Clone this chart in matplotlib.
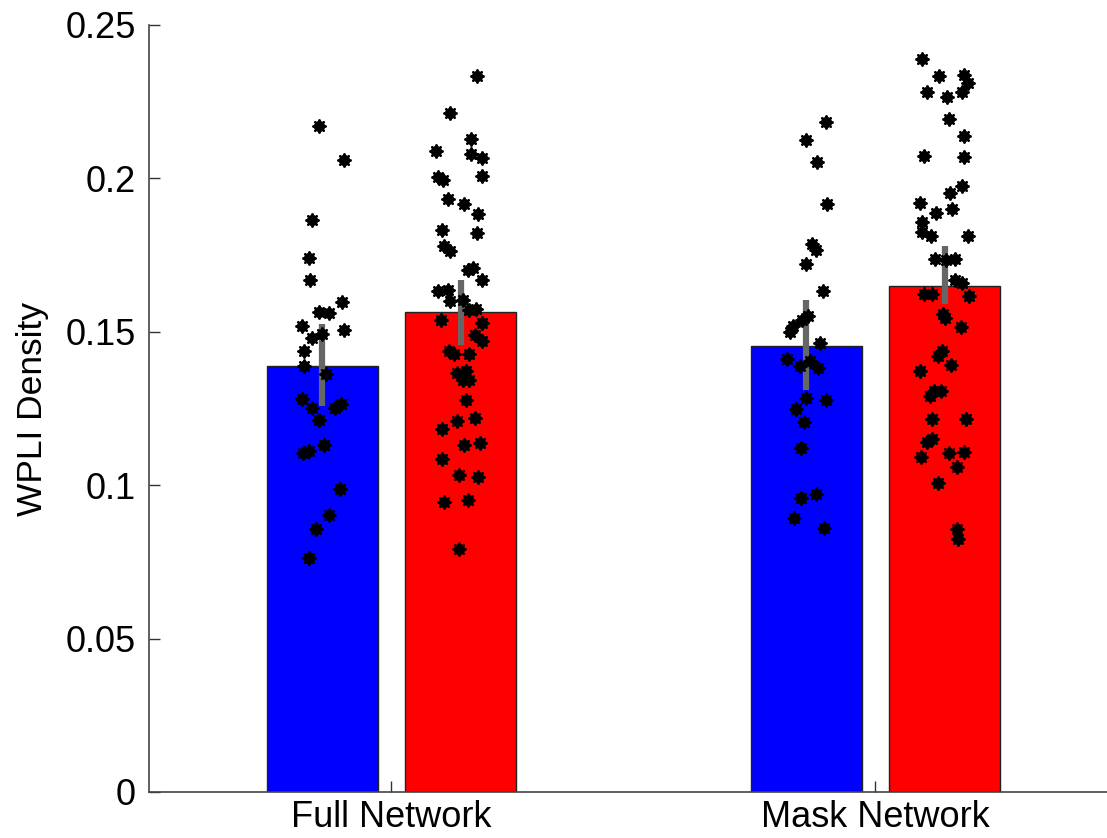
import numpy             as np
import matplotlib.pyplot as plt

plt.rcParams['font.family'] = ['Liberation Sans', 'DejaVu Sans']

groups    = ['Full Network', 'Mask Network']
means_b   = [0.1390, 0.1455]     # blue series
means_r   = [0.1566, 0.1650]     # red series
err_lo_b  = [0.1257, 0.1310]
err_hi_b  = [0.1526, 0.1605]
err_lo_r  = [0.1458, 0.1590]
err_hi_r  = [0.1670, 0.1780]

# individual subjects (value, horizontal jitter)
full_b = [0.2171, 0.2060, 0.1865, 0.1740, 0.1669, 0.1598, 0.1566, 0.1561, 0.1520,
          0.1507, 0.1481, 0.1493, 0.1437, 0.1388, 0.1364, 0.1281, 0.1252, 0.1252,
          0.1263, 0.1212, 0.1131, 0.1104, 0.1111, 0.0989, 0.0902, 0.0856, 0.0764]
full_b_jit = [-0.006, 0.045, -0.021, -0.028, -0.026, 0.041, -0.006, 0.013, -0.042,
              0.045, -0.021, -0.001, -0.037, -0.037, 0.008, -0.042, -0.021, 0.027,
              0.039, -0.006, 0.004, -0.040, -0.028, 0.036, 0.013, -0.012, -0.028]

full_r = [0.2334, 0.2213, 0.2128, 0.2088, 0.2080, 0.2068, 0.2008, 0.2004, 0.1995,
          0.1933, 0.1917, 0.1885, 0.1833, 0.1822, 0.1781, 0.1762, 0.1702, 0.1708,
          0.1670, 0.1632, 0.1637, 0.1599, 0.1605, 0.1570, 0.1575, 0.1540, 0.1527,
          0.1488, 0.1469, 0.1437, 0.1426, 0.1429, 0.1366, 0.1371, 0.1344, 0.1342,
          0.1279, 0.1220, 0.1209, 0.1184, 0.1130, 0.1136, 0.1086, 0.1032, 0.1028,
          0.0945, 0.0952, 0.0791]
full_r_jit = [0.033, -0.022, 0.021, -0.050, 0.021, 0.045, 0.045, -0.047, -0.036,
              -0.026, 0.007, 0.036, -0.038, 0.033, -0.034, -0.021, 0.015, 0.026,
              0.045, -0.047, -0.026, -0.022, 0.006, 0.017, 0.031, -0.041, 0.045,
              0.029, 0.045, -0.024, -0.014, 0.017, -0.007, 0.012, 0.004, 0.017,
              0.012, 0.029, -0.008, -0.038, 0.008, 0.040, -0.038, -0.004, 0.036,
              -0.034, 0.015, -0.004]

mask_b = [0.2185, 0.2126, 0.2055, 0.1917, 0.1787, 0.1768, 0.1722, 0.1632, 0.1553,
          0.1537, 0.1518, 0.1498, 0.1462, 0.1410, 0.1390, 0.1404, 0.1383, 0.1285,
          0.1279, 0.1247, 0.1205, 0.1122, 0.0959, 0.0970, 0.0894, 0.0862]
mask_b_jit = [0.040, -0.001, 0.022, 0.043, 0.011, 0.020, -0.001, 0.035, 0.004,
              -0.008, -0.027, -0.033, 0.028, -0.040, -0.013, 0.007, 0.024, -0.001,
              0.040, -0.022, -0.005, -0.010, -0.010, 0.020, -0.026, 0.036]

mask_r = [0.2388, 0.2334, 0.2337, 0.2310, 0.2283, 0.2265, 0.2283, 0.2193, 0.2139,
          0.2074, 0.2069, 0.1976, 0.1952, 0.1920, 0.1887, 0.1900, 0.1857, 0.1824,
          0.1813, 0.1813, 0.1737, 0.1735, 0.1737, 0.1670, 0.1659, 0.1624, 0.1624,
          0.1618, 0.1559, 0.1545, 0.1516, 0.1437, 0.1420, 0.1393, 0.1371, 0.1306,
          0.1290, 0.1306, 0.1216, 0.1216, 0.1151, 0.1140, 0.1104, 0.1108, 0.1093,
          0.1060, 0.1008, 0.0858, 0.0824]
mask_r_jit = [-0.046, -0.012, 0.040, 0.048, -0.037, 0.004, 0.037, 0.009, 0.041,
              -0.043, 0.041, 0.037, 0.012, -0.050, -0.017, 0.016, -0.046, -0.046,
              -0.029, 0.048, -0.019, 0.002, 0.021, 0.021, 0.037, -0.043, -0.027,
              0.050, -0.003, 0.000, 0.033, -0.005, -0.014, 0.014, -0.050, -0.022,
              -0.030, -0.008, -0.025, 0.045, -0.025, -0.036, 0.009, 0.041, -0.048,
              0.025, -0.014, 0.025, 0.027]

x      = np.array([1, 2])
offset = 0.1429
width  = 0.2286

fig = plt.figure(figsize=(11.07, 8.38), dpi=100)
ax  = fig.add_axes([0.135, 0.0549, 0.8744, 0.9153])

ax.bar(x - offset, means_b, width, color='#0000ff', edgecolor='#222222', linewidth=1, zorder=1)
ax.bar(x + offset, means_r, width, color='#ff0000', edgecolor='#222222', linewidth=1, zorder=1)

ax.vlines(x - offset, err_lo_b, err_hi_b, color='#666666', linewidth=4.5, zorder=2)
ax.vlines(x + offset, err_lo_r, err_hi_r, color='#666666', linewidth=4.5, zorder=2)

clusters = [(1 - offset, full_b, full_b_jit), (1 + offset, full_r, full_r_jit),
            (2 - offset, mask_b, mask_b_jit), (2 + offset, mask_r, mask_r_jit)]
for cx, vals, jit in clusters:
    xs = cx + np.array(jit)
    ax.plot(xs, vals, 'o', color='k', markersize=7.2, zorder=3)
    ax.plot(xs, vals, marker=(8, 2, 0), linestyle='none', color='k',
            markersize=10, markeredgewidth=1.4, zorder=3)

ax.set_xlim([0.5, 2.5])
ax.set_ylim([0, 0.25])
ax.set_xticks(x)
ax.set_xticklabels(groups)
ax.set_yticks([0, 0.05, 0.1, 0.15, 0.2, 0.25])
ax.set_yticklabels(['0', '0.05', '0.1', '0.15', '0.2', '0.25'])
ax.set_ylabel('WPLI Density', fontsize=25.5, labelpad=12)
ax.tick_params(direction='in', length=8, width=1, labelsize=26, color='#333333', pad=10)
ax.tick_params(axis='x', pad=6)
for s in ['top', 'right']:
    ax.spines[s].set_visible(False)
for s in ['left', 'bottom']:
    ax.spines[s].set_color('#444444')
    ax.spines[s].set_linewidth(1.2)

plt.savefig('out.png', dpi=100)
